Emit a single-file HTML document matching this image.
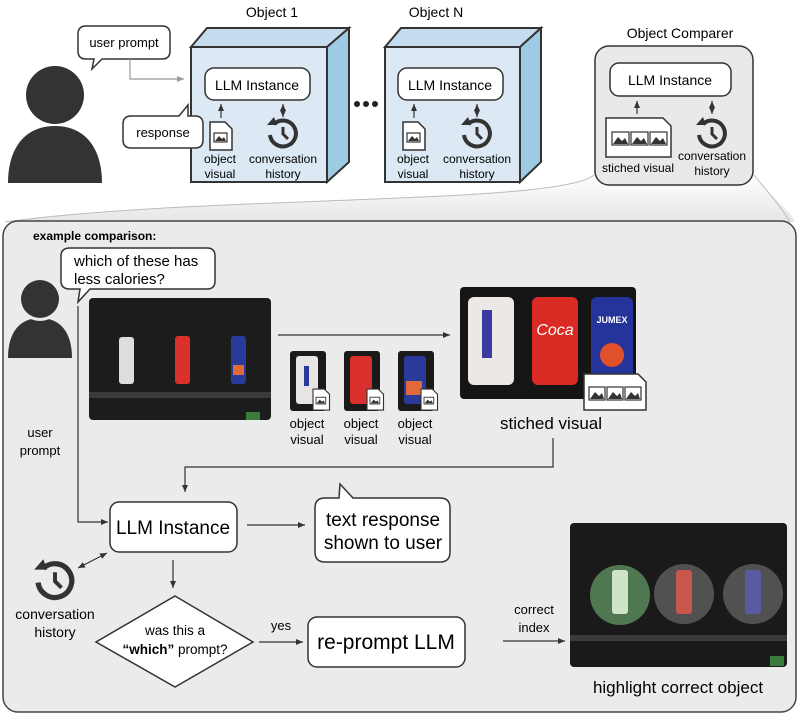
<!DOCTYPE html>
<html><head><meta charset="utf-8"><style>
html,body{margin:0;padding:0;background:#fff;}
svg{display:block;font-family:"Liberation Sans",sans-serif;}
</style></head><body>
<svg width="800" height="716" viewBox="0 0 800 716" xmlns="http://www.w3.org/2000/svg">
<defs>
<marker id="ah" markerWidth="8" markerHeight="8" refX="7" refY="4" orient="auto" markerUnits="userSpaceOnUse"><path d="M0,1 L7,4 L0,7 Z" fill="#333"/></marker>
<marker id="ahs" markerWidth="8" markerHeight="8" refX="7" refY="4" orient="auto-start-reverse" markerUnits="userSpaceOnUse"><path d="M0,1 L7,4 L0,7 Z" fill="#333"/></marker>
<marker id="ahg" markerWidth="8" markerHeight="8" refX="7" refY="4" orient="auto" markerUnits="userSpaceOnUse"><path d="M0,1 L7,4 L0,7 Z" fill="#999"/></marker>
<linearGradient id="fun" x1="0" y1="0" x2="0" y2="1"><stop offset="0" stop-color="#fff"/><stop offset="1" stop-color="#e6e6e6"/></linearGradient>
<g id="hist"><path d="M-9,-9 A13,13 0 1 1 -13,2" fill="none" stroke="#333" stroke-width="4"/><path d="M-16,-8 L-6,-8 L-9,-16 Z" fill="#333"/><path d="M0,-6 L0,1 L5,6" fill="none" stroke="#333" stroke-width="3"/></g>
<g id="file"><path d="M0,0 H15 L22,7 V28 H0 Z" fill="#fff" stroke="#333" stroke-width="1.5"/><rect x="4" y="11" width="13" height="9" fill="#fff" stroke="#333" stroke-width="1.2"/><path d="M5,19 L9,14 L12,17 L14,15 L16,19 Z" fill="#333"/></g>
</defs>

<!-- top person -->
<path d="M8,183 C8,148 25,126 55,126 C85,126 102,148 102,183 Z" fill="#333"/>
<circle cx="55" cy="95" r="31" fill="#fff"/>
<circle cx="55" cy="95" r="29" fill="#333"/>

<!-- user prompt bubble -->
<path d="M86,26 H162 Q170,26 170,34 V51 Q170,59 162,59 H102 L92,69 L94,59 H86 Q78,59 78,51 V34 Q78,26 86,26 Z" fill="#fff" stroke="#333" stroke-width="1.5"/>
<text x="124" y="47" font-size="13" text-anchor="middle">user prompt</text>
<path d="M130,59 V79 H184" fill="none" stroke="#999" stroke-width="1.2" marker-end="url(#ahg)"/>

<!-- Object 1 cube -->
<text x="272" y="17" font-size="14" text-anchor="middle">Object 1</text>
<path d="M191,47 L207,28 L349,28 L327,47 Z" fill="#c5dcee" stroke="#333" stroke-width="2"/>
<path d="M327,47 L349,28 L349,162 L327,182 Z" fill="#9ccbe3" stroke="#333" stroke-width="2"/>
<rect x="191" y="47" width="136" height="135" fill="#dce9f5" stroke="#333" stroke-width="2"/>
<rect x="205" y="68" width="105" height="32" rx="9" fill="#fff" stroke="#333" stroke-width="1.5"/>
<text x="257" y="90" font-size="14" text-anchor="middle">LLM Instance</text>
<line x1="221" y1="118" x2="221" y2="104" stroke="#333" stroke-width="1.2" marker-end="url(#ah)"/>
<line x1="283" y1="104" x2="283" y2="117" stroke="#333" stroke-width="1.2" marker-start="url(#ahs)" marker-end="url(#ahs)"/>
<use href="#file" x="210" y="122"/>
<use href="#hist" x="283" y="133"/>
<text x="220" y="163" font-size="12" text-anchor="middle">object</text>
<text x="220" y="178" font-size="12" text-anchor="middle">visual</text>
<text x="283" y="163" font-size="12" text-anchor="middle">conversation</text>
<text x="283" y="178" font-size="12" text-anchor="middle">history</text>

<!-- response bubble -->
<path d="M131,116 H179 L188,105 L188,116 H195 Q203,116 203,124 V140 Q203,148 195,148 H131 Q123,148 123,140 V124 Q123,116 131,116 Z" fill="#fff" stroke="#333" stroke-width="1.5"/>
<text x="163" y="137" font-size="13" text-anchor="middle">response</text>

<!-- dots -->
<circle cx="357" cy="104" r="3" fill="#222"/><circle cx="366" cy="104" r="3" fill="#222"/><circle cx="375" cy="104" r="3" fill="#222"/>

<!-- Object N cube -->
<text x="436" y="17" font-size="14" text-anchor="middle">Object N</text>
<path d="M385,47 L401,28 L541,28 L520,47 Z" fill="#c5dcee" stroke="#333" stroke-width="2"/>
<path d="M520,47 L541,28 L541,162 L520,182 Z" fill="#9ccbe3" stroke="#333" stroke-width="2"/>
<rect x="385" y="47" width="135" height="135" fill="#dce9f5" stroke="#333" stroke-width="2"/>
<rect x="398" y="68" width="105" height="32" rx="9" fill="#fff" stroke="#333" stroke-width="1.5"/>
<text x="450" y="90" font-size="14" text-anchor="middle">LLM Instance</text>
<line x1="414" y1="118" x2="414" y2="104" stroke="#333" stroke-width="1.2" marker-end="url(#ah)"/>
<line x1="477" y1="104" x2="477" y2="117" stroke="#333" stroke-width="1.2" marker-start="url(#ahs)" marker-end="url(#ahs)"/>
<use href="#file" x="403" y="122"/>
<use href="#hist" x="477" y="133"/>
<text x="413" y="163" font-size="12" text-anchor="middle">object</text>
<text x="413" y="178" font-size="12" text-anchor="middle">visual</text>
<text x="477" y="163" font-size="12" text-anchor="middle">conversation</text>
<text x="477" y="178" font-size="12" text-anchor="middle">history</text>

<!-- funnel -->
<path d="M594,175 C560,205 200,195 5,222 L795,222 C790,210 770,195 754,175 Z" fill="url(#fun)"/>
<path d="M594,175 C560,205 200,195 5,222" fill="none" stroke="#bbb" stroke-width="1"/>
<path d="M754,175 C770,195 780,205 790,222" fill="none" stroke="#bbb" stroke-width="1"/>

<!-- Object comparer -->
<text x="680" y="38" font-size="14" text-anchor="middle">Object Comparer</text>
<rect x="595" y="46" width="158" height="139" rx="14" fill="#e8e9e8" stroke="#333" stroke-width="1.5"/>
<rect x="610" y="63" width="121" height="33" rx="9" fill="#fff" stroke="#333" stroke-width="1.5"/>
<text x="670" y="85" font-size="14" text-anchor="middle">LLM Instance</text>
<line x1="637" y1="114" x2="637" y2="101" stroke="#333" stroke-width="1.2" marker-end="url(#ah)"/>
<line x1="712" y1="101" x2="712" y2="114" stroke="#333" stroke-width="1.2" marker-start="url(#ahs)" marker-end="url(#ahs)"/>
<path d="M606,118 H663 L671,126 V157 H606 Z" fill="#fff" stroke="#333" stroke-width="1.5"/>
<g fill="#fff" stroke="#333" stroke-width="1.2"><rect x="612" y="132" width="17" height="13"/><rect x="631" y="132" width="17" height="13"/><rect x="650" y="132" width="17" height="13"/></g>
<path d="M613,144 L618,137 L622,141 L625,138 L628,144 Z M632,144 L637,137 L641,141 L644,138 L647,144 Z M651,144 L656,137 L660,141 L663,138 L666,144 Z" fill="#333"/>
<text x="638" y="172" font-size="12" text-anchor="middle">stiched visual</text>
<use href="#hist" x="712" y="133"/>
<text x="712" y="160" font-size="12" text-anchor="middle">conversation</text>
<text x="712" y="175" font-size="12" text-anchor="middle">history</text>

<!-- bottom panel -->
<rect x="3" y="221" width="793" height="491" rx="15" fill="#ebebeb" stroke="#444" stroke-width="1.5"/>
<text x="33" y="240" font-size="12" font-weight="bold">example comparison:</text>

<!-- which bubble -->
<path d="M70,248 H207 Q215,248 215,256 V281 Q215,289 207,289 H90 L78,302 L80,289 H70 Q61,289 61,281 V256 Q61,248 70,248 Z" fill="#fff" stroke="#333" stroke-width="1.5"/>
<text x="74" y="266" font-size="15">which of these has</text>
<text x="74" y="284" font-size="15">less calories?</text>

<!-- small person -->
<path d="M8,358 C8,332 20,318 40,318 C60,318 72,332 72,358 Z" fill="#333"/>
<circle cx="40" cy="299" r="22" fill="#ebebeb"/>
<circle cx="40" cy="299" r="19" fill="#333"/>

<path d="M78,306 V522 H108" fill="none" stroke="#333" stroke-width="1.2" marker-end="url(#ah)"/>
<text x="40" y="437" font-size="13" text-anchor="middle">user</text>
<text x="40" y="455" font-size="13" text-anchor="middle">prompt</text>

<!-- photo 1 -->
<rect x="89" y="298" width="182" height="122" rx="4" fill="#1c1c1c"/>
<rect x="89" y="392" width="182" height="6" fill="#3a3a3a"/>
<rect x="119" y="337" width="15" height="47" rx="3" fill="#ddd"/>
<rect x="175" y="336" width="15" height="48" rx="3" fill="#d9302c"/>
<rect x="231" y="336" width="15" height="48" rx="3" fill="#2a3a9a"/>
<rect x="233" y="365" width="11" height="10" fill="#e06a3a"/>
<rect x="246" y="412" width="14" height="8" fill="#3a7a3a"/>

<line x1="278" y1="335" x2="450" y2="335" stroke="#333" stroke-width="1.2" marker-end="url(#ah)"/>

<!-- small crops -->
<rect x="290" y="351" width="36" height="60" rx="3" fill="#1a1a1a"/><rect x="296" y="356" width="22" height="48" rx="3" fill="#e8e4e4"/><rect x="304" y="366" width="5" height="20" fill="#2a3a9a"/>
<rect x="344" y="351" width="36" height="60" rx="3" fill="#1a1a1a"/><rect x="350" y="356" width="22" height="48" rx="3" fill="#d9302c"/>
<rect x="398" y="351" width="36" height="60" rx="3" fill="#1a1a1a"/><rect x="404" y="356" width="22" height="48" rx="3" fill="#2a3a9a"/><rect x="406" y="381" width="16" height="14" fill="#e06a3a"/>
<g transform="translate(313,389) scale(0.75)"><use href="#file"/></g>
<g transform="translate(367,389) scale(0.75)"><use href="#file"/></g>
<g transform="translate(421,389) scale(0.75)"><use href="#file"/></g>
<g font-size="13" text-anchor="middle"><text x="307" y="428">object</text><text x="307" y="444">visual</text><text x="361" y="428">object</text><text x="361" y="444">visual</text><text x="415" y="428">object</text><text x="415" y="444">visual</text></g>

<!-- stitched photo -->
<rect x="460" y="287" width="176" height="112" rx="4" fill="#151515"/>
<rect x="468" y="297" width="46" height="88" rx="6" fill="#ece8e6"/><rect x="482" y="310" width="10" height="48" fill="#3a3aa0"/>
<rect x="532" y="297" width="46" height="88" rx="6" fill="#d92a24"/><text x="555" y="335" font-size="16" fill="#fff" text-anchor="middle" font-style="italic">Coca</text>
<rect x="591" y="297" width="42" height="88" rx="6" fill="#24349a"/><text x="612" y="323" font-size="9" fill="#fff" text-anchor="middle" font-weight="bold">JUMEX</text><circle cx="612" cy="355" r="12" fill="#e0502a"/>
<path d="M584,374 H638 L646,382 V410 H584 Z" fill="#fff" stroke="#333" stroke-width="1.5"/>
<g fill="#fff" stroke="#333" stroke-width="1.2"><rect x="589" y="387" width="16" height="13"/><rect x="607" y="387" width="16" height="13"/><rect x="625" y="387" width="16" height="13"/></g>
<path d="M590,399 L595,392 L599,396 L602,393 L604,399 Z M608,399 L613,392 L617,396 L620,393 L622,399 Z M626,399 L631,392 L635,396 L638,393 L640,399 Z" fill="#333"/>
<text x="551" y="429" font-size="17" text-anchor="middle">stiched visual</text>

<path d="M553,438 V467 H185 V492" fill="none" stroke="#333" stroke-width="1.2" marker-end="url(#ah)"/>

<!-- LLM instance -->
<rect x="110" y="502" width="127" height="50" rx="9" fill="#fff" stroke="#333" stroke-width="1.5"/>
<text x="173" y="534" font-size="19" text-anchor="middle">LLM Instance</text>
<line x1="247" y1="525" x2="305" y2="525" stroke="#333" stroke-width="1.2" marker-end="url(#ah)"/>

<!-- text response bubble -->
<path d="M325,498 H339 L340,484 L353,498 H440 Q450,498 450,508 V552 Q450,562 440,562 H325 Q315,562 315,552 V508 Q315,498 325,498 Z" fill="#fff" stroke="#333" stroke-width="1.5"/>
<text x="383" y="526" font-size="19" text-anchor="middle">text response</text>
<text x="383" y="549" font-size="19" text-anchor="middle">shown to user</text>

<!-- history -->
<line x1="78" y1="568" x2="107" y2="553" stroke="#333" stroke-width="1.2" marker-start="url(#ahs)" marker-end="url(#ahs)"/>
<g transform="translate(55,580) scale(1.3)"><use href="#hist"/></g>
<text x="55" y="619" font-size="14" text-anchor="middle">conversation</text>
<text x="55" y="637" font-size="14" text-anchor="middle">history</text>

<line x1="173" y1="560" x2="173" y2="588" stroke="#333" stroke-width="1.2" marker-end="url(#ah)"/>

<!-- diamond -->
<path d="M175,596 L253,642 L175,687 L96,642 Z" fill="#fff" stroke="#333" stroke-width="1.5"/>
<text x="175" y="635" font-size="13.5" text-anchor="middle">was this a</text>
<text x="175" y="654" font-size="13.5" text-anchor="middle"><tspan font-weight="bold">“which”</tspan> prompt?</text>

<text x="281" y="630" font-size="13" text-anchor="middle">yes</text>
<line x1="259" y1="642" x2="303" y2="642" stroke="#333" stroke-width="1.2" marker-end="url(#ah)"/>

<rect x="308" y="617" width="157" height="50" rx="9" fill="#fff" stroke="#333" stroke-width="1.5"/>
<text x="386" y="649" font-size="21" text-anchor="middle">re-prompt LLM</text>

<text x="534" y="614" font-size="13" text-anchor="middle">correct</text>
<text x="534" y="632" font-size="13" text-anchor="middle">index</text>
<line x1="503" y1="641" x2="565" y2="641" stroke="#333" stroke-width="1.2" marker-end="url(#ah)"/>

<!-- highlight photo -->
<rect x="570" y="523" width="217" height="144" rx="4" fill="#1a1a1a"/>
<rect x="570" y="635" width="217" height="6" fill="#3a3a3a"/>
<circle cx="620" cy="595" r="30" fill="#5a8a5a" opacity="0.85"/>
<rect x="612" y="570" width="16" height="44" rx="3" fill="#cfe3c7"/>
<circle cx="684" cy="594" r="30" fill="#777" opacity="0.6"/>
<rect x="676" y="570" width="16" height="44" rx="3" fill="#c9564a"/>
<circle cx="753" cy="594" r="30" fill="#777" opacity="0.6"/>
<rect x="745" y="570" width="16" height="44" rx="3" fill="#5a5aa0"/>
<rect x="770" y="656" width="14" height="10" fill="#3a7a3a"/>
<text x="678" y="693" font-size="17" text-anchor="middle">highlight correct object</text>
</svg>
</body></html>
